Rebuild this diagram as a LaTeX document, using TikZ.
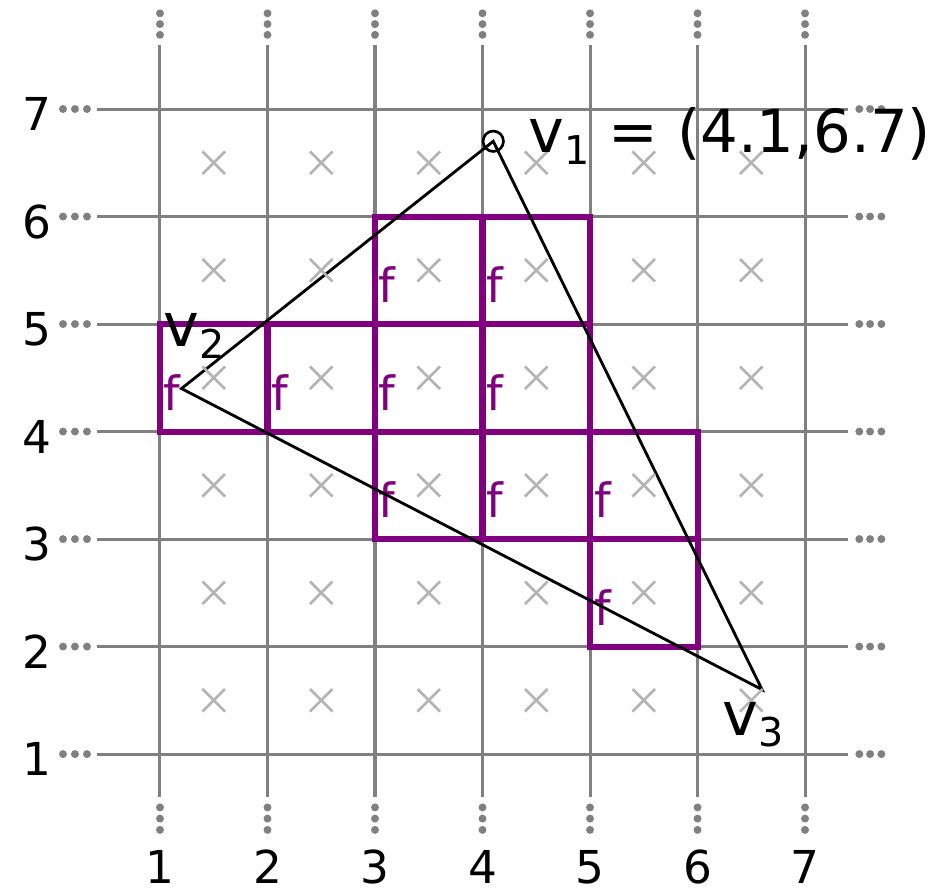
\documentclass[tikz,border=0pt]{standalone}
\usepackage{fontspec}
\setmainfont{DejaVu Sans}
\definecolor{gridgray}{HTML}{808080}
\definecolor{xgray}{HTML}{B4B4B4}
\definecolor{fpurple}{HTML}{800080}
\begin{document}
\begin{tikzpicture}[x=1cm,y=1cm,
  gridline/.style={gridgray,line width=0.8pt},
  griddot/.style={fill=gridgray},
  xmark/.style={xgray,line width=0.7pt},
  cellbox/.style={fpurple,line width=1.6pt},
  flabel/.style={fpurple,font=\fontsize{12.5}{12.5}\selectfont,anchor=base west,inner sep=0pt},
  tri/.style={black,line width=0.75pt},
  ticklabel/.style={font=\fontsize{12}{12}\selectfont,inner sep=0pt},
  vlabel/.style={anchor=base west,inner sep=0pt}]
\useasboundingbox (-0.488,-0.237) rectangle (8.274,8.014);
% grid
\foreach \i in {1,...,7}{
  \draw[gridline] (\i,0.603) -- (\i,7.595);
  \draw[gridline] (0.411,\i) -- (7.403,\i);
  \foreach \d in {0.295,0.40,0.504,7.69,7.79,7.89} \fill[griddot] (\i,\d) circle (0.037);
  \foreach \d in {0.098,0.209,0.321,7.505,7.605,7.71} \fill[griddot] (\d,\i) circle (0.037);
  \node[ticklabel,anchor=base] (xl\i) at (\i,-0.2) {\i};
  \node[ticklabel,anchor=base east] (yl\i) at (0.0,\i-0.2) {\i};
}
% purple cells
\foreach \cx/\cy in {1/4,2/4,3/4,4/4,3/5,4/5,3/3,4/3,5/3,5/2}{
  \draw[cellbox] (\cx,\cy) rectangle ++(1,1);
}
\foreach \cx/\cy in {1/4,2/4,3/4,4/4,3/5,4/5,3/3,4/3,5/3,5/2}{
  \node[flabel] (f\cx\cy) at (\cx+0.03,\cy+0.2) {f};
}
% triangle
\coordinate (v1) at (4.1,6.7);
\coordinate (v2) at (1.2,4.4);
\coordinate (v3) at (6.6,1.6);
\draw[tri] (v1) -- (v2) -- (v3) -- cycle;
\node[draw=black,line width=0.7pt,circle,minimum size=0.19cm,inner sep=0pt] (c1) at (v1) {};
% x marks
\foreach \i in {1,...,6}{
  \foreach \j in {1,...,6}{
    \draw[xmark] (\i+0.5-0.105,\j+0.5-0.105) -- (\i+0.5+0.105,\j+0.5+0.105);
    \draw[xmark] (\i+0.5-0.105,\j+0.5+0.105) -- (\i+0.5+0.105,\j+0.5-0.105);
  }
}
% vertex labels
\node[vlabel] (lv1) at (4.423,6.593) {{\fontsize{16}{16}\selectfont v}\raisebox{-3pt}{\fontsize{10.5}{10.5}\selectfont 1}\fontsize{15.7}{15.7}\selectfont{} = (4.1,6.7)};
\node[vlabel] (lv2) at (1.028,4.789) {{\fontsize{16}{16}\selectfont v}\raisebox{-3pt}{\fontsize{10.5}{10.5}\selectfont 2}};
\node[vlabel] (lv3) at (6.225,1.177) {{\fontsize{16}{16}\selectfont v}\raisebox{-3pt}{\fontsize{10.5}{10.5}\selectfont 3}};
\end{tikzpicture}
\end{document}
